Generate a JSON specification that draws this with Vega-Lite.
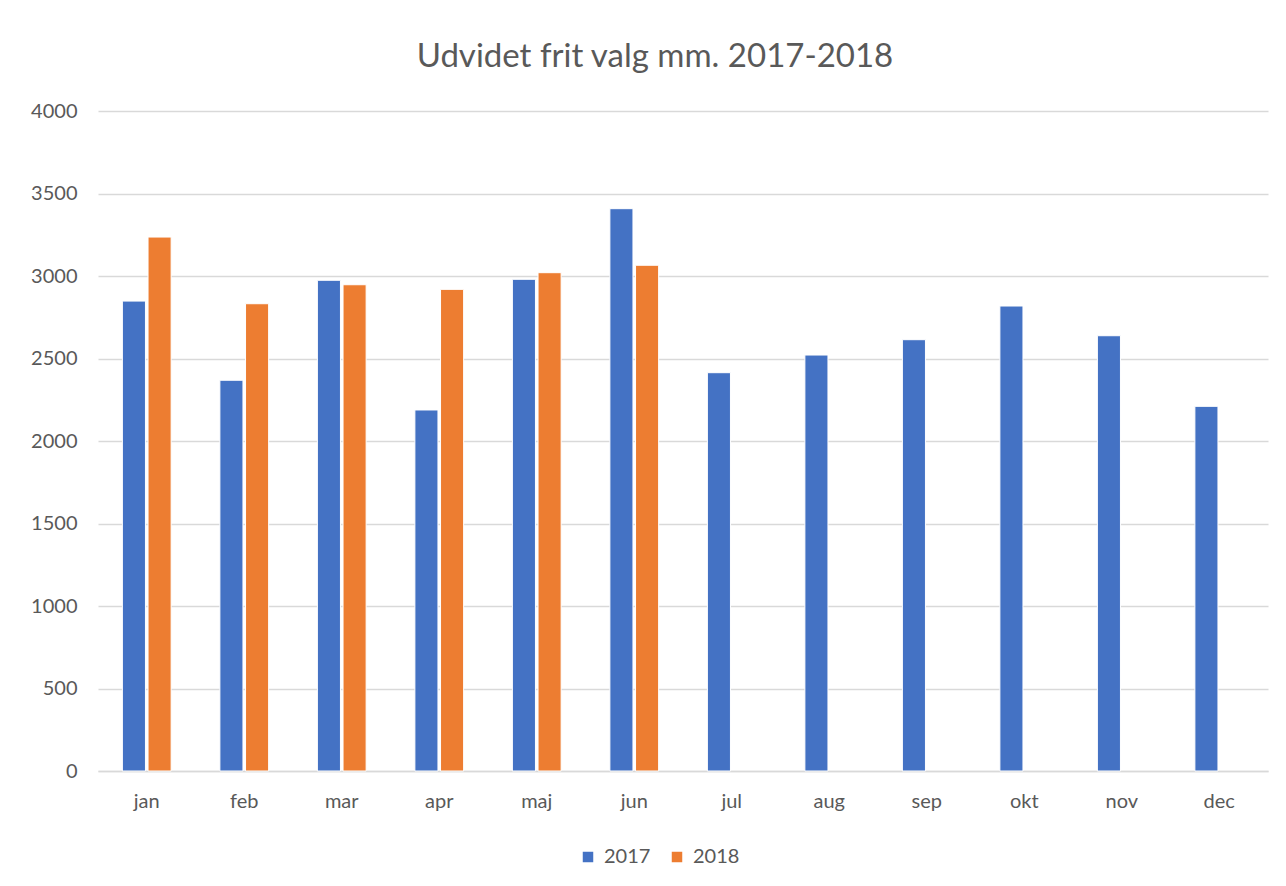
{
  "$schema": "https://vega.github.io/schema/vega-lite/v6.json",
  "autosize": "none",
  "width": 1170,
  "height": 660,
  "padding": {"left": 98, "top": 111, "right": 18, "bottom": 115},
  "background": "white",
  "title": {
    "text": "Udvidet frit valg mm. 2017-2018",
    "anchor": "middle",
    "frame": "group",
    "dx": -28,
    "offset": 27,
    "font": "Lato",
    "fontSize": 33,
    "fontWeight": "normal",
    "color": "#595959"
  },
  "data": {
    "values": [
      {"month": "jan", "year": "2017", "value": 2848},
      {"month": "jan", "year": "2018", "value": 3236},
      {"month": "feb", "year": "2017", "value": 2368},
      {"month": "feb", "year": "2018", "value": 2832},
      {"month": "mar", "year": "2017", "value": 2974},
      {"month": "mar", "year": "2018", "value": 2947},
      {"month": "apr", "year": "2017", "value": 2188},
      {"month": "apr", "year": "2018", "value": 2919},
      {"month": "maj", "year": "2017", "value": 2980},
      {"month": "maj", "year": "2018", "value": 3020},
      {"month": "jun", "year": "2017", "value": 3408},
      {"month": "jun", "year": "2018", "value": 3065},
      {"month": "jul", "year": "2017", "value": 2414},
      {"month": "aug", "year": "2017", "value": 2521},
      {"month": "sep", "year": "2017", "value": 2614},
      {"month": "okt", "year": "2017", "value": 2818},
      {"month": "nov", "year": "2017", "value": 2638},
      {"month": "dec", "year": "2017", "value": 2210}
    ]
  },
  "mark": {"type": "bar", "stroke": "white", "strokeWidth": 1},
  "encoding": {
    "x": {
      "field": "month",
      "type": "nominal",
      "sort": ["jan","feb","mar","apr","maj","jun","jul","aug","sep","okt","nov","dec"],
      "scale": {"paddingInner": 0.5, "paddingOuter": 0.25},
      "axis": {
        "title": null,
        "labelAngle": 0,
        "ticks": false,
        "domainColor": "#d9d9d9",
        "domainWidth": 1.5,
        "labelPadding": 20,
        "labelFont": "Lato",
        "labelFontSize": 20,
        "labelColor": "#595959"
      }
    },
    "xOffset": {
      "field": "year",
      "type": "nominal",
      "scale": {"domain": ["2017", "2018"], "paddingInner": 0.1, "paddingOuter": 0}
    },
    "y": {
      "field": "value",
      "type": "quantitative",
      "scale": {"domain": [0, 4000]},
      "axis": {
        "title": null,
        "values": [0,500,1000,1500,2000,2500,3000,3500,4000],
        "format": "d",
        "domain": false,
        "ticks": false,
        "gridColor": "#d9d9d9",
        "gridWidth": 1.5,
        "labelPadding": 21,
        "labelFont": "Lato",
        "labelFontSize": 20,
        "labelColor": "#595959"
      }
    },
    "color": {
      "field": "year",
      "type": "nominal",
      "scale": {"domain": ["2017", "2018"], "range": ["#4472C4", "#ED7D31"]},
      "legend": {
        "title": null,
        "orient": "none",
        "direction": "horizontal",
        "legendX": 480,
        "legendY": 736,
        "symbolType": "square",
        "symbolSize": 110,
        "symbolStrokeWidth": 0,
        "labelFont": "Lato",
        "labelFontSize": 20,
        "labelColor": "#595959",
        "labelOffset": 6,
        "columnPadding": 16
      }
    }
  },
  "config": {"view": {"stroke": null}}
}
